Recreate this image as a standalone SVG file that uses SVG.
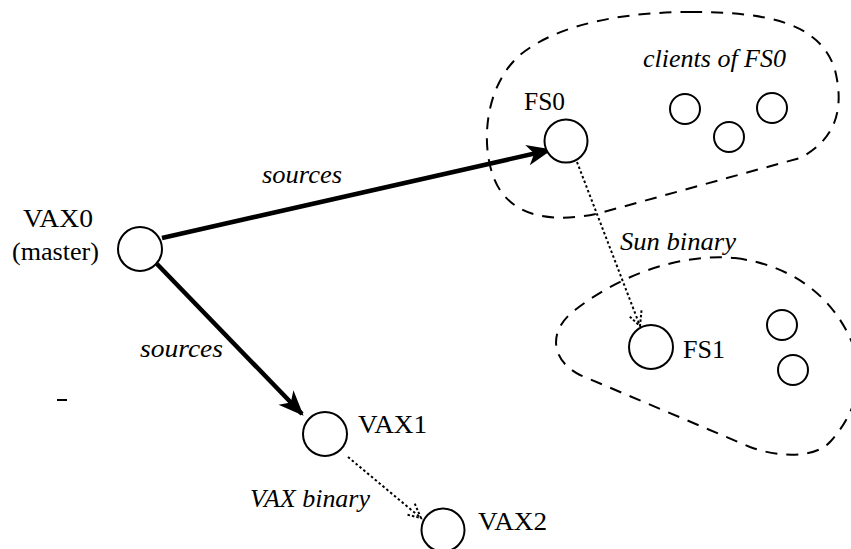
<svg xmlns="http://www.w3.org/2000/svg" width="851" height="549" viewBox="0 0 851 549" font-family="Liberation Serif, DejaVu Serif, serif">
<style>
.node{fill:#fff;stroke:#000;stroke-width:2}
text{font-family:Liberation Serif, DejaVu Serif, serif}
.lbl{font-size:25px;fill:#000}
.it{font-size:25px;font-style:italic;fill:#000}
.blob{fill:none;stroke:#000;stroke-width:2;stroke-dasharray:12 9}
.thick{stroke:#000;stroke-width:4.5;fill:none}
.dot{stroke:#000;stroke-width:2;fill:none;stroke-dasharray:2.5 2.5}
</style>
<defs>
<marker id="head" markerUnits="userSpaceOnUse" markerWidth="30" markerHeight="30" viewBox="-22 -12 26 24" refX="0" refY="0" orient="auto">
<path d="M2,0 L-20,-9 L-14,0 L-20,9 Z" fill="#000"/>
</marker>
<marker id="open" markerUnits="userSpaceOnUse" markerWidth="24" markerHeight="24" viewBox="-18 -12 20 24" refX="0" refY="0" orient="auto">
<path d="M-14,-7 L0,0 L-14,7" fill="none" stroke="#000" stroke-width="2" stroke-dasharray="2.5 2"/>
</marker>
</defs>
<g id="groups">
<path class="blob" d="M 690 12 C 760 12, 820 20, 835 70 C 845 110, 835 140, 800 158 L 600 213 C 560 222, 520 220, 500 190 C 480 160, 480 90, 520 55 C 560 22, 630 12, 690 12 Z"/>
<path class="blob" d="M 735 258 C 790 265, 835 295, 855 350 C 865 390, 850 420, 830 442 C 815 458, 780 458, 750 447 L 580 375 C 550 360, 548 330, 575 310 C 620 275, 680 253, 735 258 Z"/>
<text class="it" font-family="Liberation Serif" x="643" y="67" textLength="143" lengthAdjust="spacingAndGlyphs">clients of FS0</text>
</g>
<g id="connectors">
<line class="thick" x1="162" y1="238" x2="550" y2="150" marker-end="url(#head)"/>
<line class="thick" x1="157" y1="264" x2="302" y2="414" marker-end="url(#head)"/>
<line class="dot" x1="577" y1="162" x2="640" y2="326" marker-end="url(#open)"/>
<line class="dot" x1="348" y1="457" x2="421" y2="518" marker-end="url(#open)"/>
<text class="it" x="262" y="183" textLength="80" lengthAdjust="spacingAndGlyphs">sources</text>
<text class="it" x="140" y="357" textLength="83" lengthAdjust="spacingAndGlyphs">sources</text>
<text class="it" x="620" y="250" textLength="116" lengthAdjust="spacingAndGlyphs">Sun binary</text>
<text class="it" x="250" y="507" textLength="120" lengthAdjust="spacingAndGlyphs">VAX binary</text>
</g>
<g id="VAX0">
<circle class="node" cx="140" cy="249" r="22"/>
<text class="lbl" x="23" y="227" textLength="70" lengthAdjust="spacingAndGlyphs">VAX0</text>
<text class="lbl" x="12" y="260" textLength="87" lengthAdjust="spacingAndGlyphs">(master)</text>
</g>
<g id="FS0">
<circle class="node" cx="566" cy="141" r="21.5"/>
<text class="lbl" x="524" y="110" textLength="41" lengthAdjust="spacingAndGlyphs">FS0</text>
</g>
<g id="client1"><circle class="node" cx="685" cy="109" r="15"/></g>
<g id="client2"><circle class="node" cx="729" cy="137" r="15"/></g>
<g id="client3"><circle class="node" cx="772" cy="108" r="15"/></g>
<g id="FS1">
<circle class="node" cx="651" cy="347" r="22"/>
<text class="lbl" x="683" y="358" textLength="42" lengthAdjust="spacingAndGlyphs">FS1</text>
</g>
<g id="client4"><circle class="node" cx="782" cy="325" r="15"/></g>
<g id="client5"><circle class="node" cx="793" cy="370" r="15"/></g>
<g id="VAX1">
<circle class="node" cx="325" cy="434" r="22"/>
<text class="lbl" x="358" y="433" textLength="69" lengthAdjust="spacingAndGlyphs">VAX1</text>
</g>
<g id="VAX2">
<circle class="node" cx="443" cy="530" r="21.5"/>
<text class="lbl" x="478" y="530" textLength="69" lengthAdjust="spacingAndGlyphs">VAX2</text>
</g>
<line x1="57" y1="400" x2="67" y2="400" stroke="#000" stroke-width="2"/>
</svg>
